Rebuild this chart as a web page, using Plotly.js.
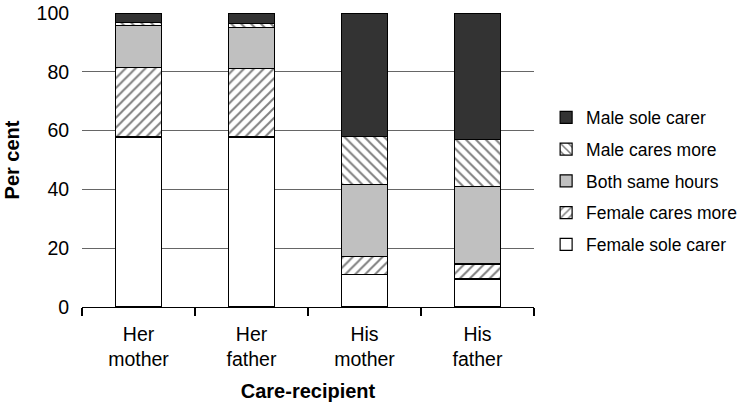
<!DOCTYPE html>
<html>
<head>
<meta charset="utf-8">
<script src="https://cdn.plot.ly/plotly-3.0.1.min.js"></script>
<style>html,body{margin:0;padding:0;background:#fff;}#chart{width:740px;height:402px;}</style>
</head>
<body>
<div id="chart"></div>
<script>
const categories = ["Her<br>mother", "Her<br>father", "His<br>mother", "His<br>father"];
const seriesNames = ["Female sole carer", "Female cares more", "Both same hours", "Male cares more", "Male sole carer"];
const femaleSole = [57.8, 57.8, 11.0, 9.5];
const femaleMore = [23.7, 23.2, 6.1, 5.1];
const bothSame = [14.2, 14.0, 24.5, 26.4];
const maleMore = [1.1, 1.4, 16.4, 15.9];
const maleSole = [3.2, 3.6, 42.0, 43.1];
const yTicks = [0, 20, 40, 60, 80, 100];

const values = [femaleSole, femaleMore, bothSame, maleMore, maleSole];
const fills = ["#ffffff", "#ffffff", "#c0c0c0", "#ffffff", "#333333"];
const shapes = ["", "/", "", "\\", ""];

const traces = values.map((v, i) => ({
  type: "bar",
  name: seriesNames[i],
  x: categories,
  y: v,
  legendgroup: "g" + i,
  legendrank: 1000 - i,
  marker: {
    color: fills[i],
    line: {color: "#000", width: 1.2},
    pattern: shapes[i] ? {shape: shapes[i], fgcolor: "#000", bgcolor: "#fff", size: 7, solidity: 0.28, fillmode: "overlay"} : undefined
  },
  hoverinfo: "skip"
}));

const layout = {
  width: 740, height: 402,
  margin: {l: 82, r: 206, t: 13, b: 95, autoexpand: false},
  barmode: "stack",
  bargap: 0.59,
  paper_bgcolor: "#fff",
  plot_bgcolor: "#fff",
  font: {family: "Liberation Sans, Arial, sans-serif", color: "#000"},
  xaxis: {
    showline: true, linecolor: "#000", linewidth: 1.2,
    ticks: "outside", tickson: "boundaries", ticklen: 8, tickcolor: "#000", tickwidth: 1.2,
    ticklabelstandoff: 9,
    tickfont: {size: 19.5},
    title: {text: "<b>Care-recipient</b>", font: {size: 20}, standoff: 16}
  },
  yaxis: {
    range: [0, 100],
    tickvals: yTicks,
    ticks: "outside", ticklen: 8, tickcolor: "rgba(0,0,0,0)",
    showgrid: true, gridcolor: "#666", gridwidth: 1,
    zeroline: false, showline: false,
    tickfont: {size: 19.5},
    title: {text: "<b>Per cent</b>", font: {size: 20}, standoff: 11}
  },
  legend: {
    xref: "container", yref: "container",
    x: 0.738, xanchor: "left", y: 0.55, yanchor: "middle",
    traceorder: "grouped", tracegroupgap: 6,
    font: {size: 17.5}
  },
  showlegend: true
};

Plotly.newPlot("chart", traces, layout, {staticPlot: true});
</script>
</body>
</html>
